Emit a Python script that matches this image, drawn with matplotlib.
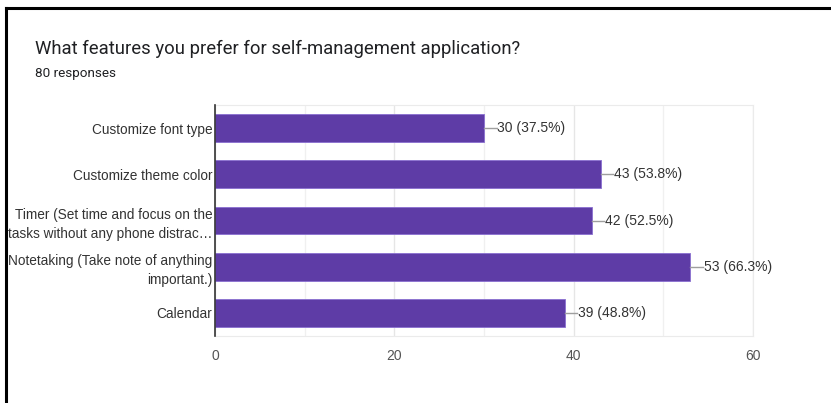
import matplotlib.pyplot as plt
from matplotlib.lines import Line2D

features = [
    'Customize font type',
    'Customize theme color',
    'Timer (Set time and focus on the\ntasks without any phone distrac…',
    'Notetaking (Take note of anything\nimportant.)',
    'Calendar',
]
counts = [30, 43, 42, 53, 39]
percents = [37.5, 53.8, 52.5, 66.3, 48.8]
total = 80

bar_color = '#5e3ca6'
text_color = '#333333'

fig = plt.figure(figsize=(8.31, 4.03), dpi=100)
ax = fig.add_axes([0.2587, 0.166, 0.6475, 0.5735])

ypos = list(range(len(features)))
ax.barh(ypos, counts, height=0.6, color=bar_color, edgecolor='#8a6fd0', linewidth=0.6, zorder=3)

# value labels with small leader line
for y, c, p in zip(ypos, counts, percents):
    ax.plot([c, c + 1.4], [y, y], color='#9e9e9e', lw=1, zorder=3, clip_on=False)
    ax.text(c + 1.5, y, f'{c} ({p}%)', va='center', ha='left', fontsize=10,
            color=text_color, family='Liberation Sans')

ax.set_xlim(0, 60)
ax.set_ylim(4.5, -0.5)
ax.set_yticks(ypos)
ax.set_yticklabels(features, fontsize=9.8, color=text_color, family='Liberation Sans',
                   linespacing=1.45)
ax.set_xticks([0, 20, 40, 60])
ax.set_xticks([10, 30, 50], minor=True)
ax.tick_params(axis='x', which='both', length=0, pad=9, labelsize=10, labelcolor='#555555')
ax.tick_params(axis='y', length=0, pad=2)
for lbl in ax.get_xticklabels():
    lbl.set_family('Liberation Sans')
ax.grid(axis='x', which='major', color='#e6e6e6', lw=1, zorder=0)
ax.grid(axis='x', which='minor', color='#f0f0f0', lw=1, zorder=0)

for s in ['top', 'right', 'bottom']:
    ax.spines[s].set_color('#ebebeb')
ax.spines['left'].set_color('#333333')
ax.spines['left'].set_linewidth(1.2)
ax.spines['left'].set_zorder(4)

fig.text(35 / 831, 1 - 49 / 403, 'What features you prefer for self-management application?',
         fontsize=13.3, color='#202124', family='Roboto', va='center')
fig.text(35 / 831, 1 - 73 / 403, f'{total} responses', fontsize=9.7, color='#202124',
         family='Roboto', va='center')

# frame around the card
fig.add_artist(Line2D([6 / 831, 1], [1 - 8 / 403, 1 - 8 / 403], color='black', lw=2.2,
                      transform=fig.transFigure))
fig.add_artist(Line2D([6 / 831, 6 / 831], [0, 1 - 8 / 403], color='black', lw=2.2,
                      transform=fig.transFigure))

fig.savefig('out.png', dpi=100)
